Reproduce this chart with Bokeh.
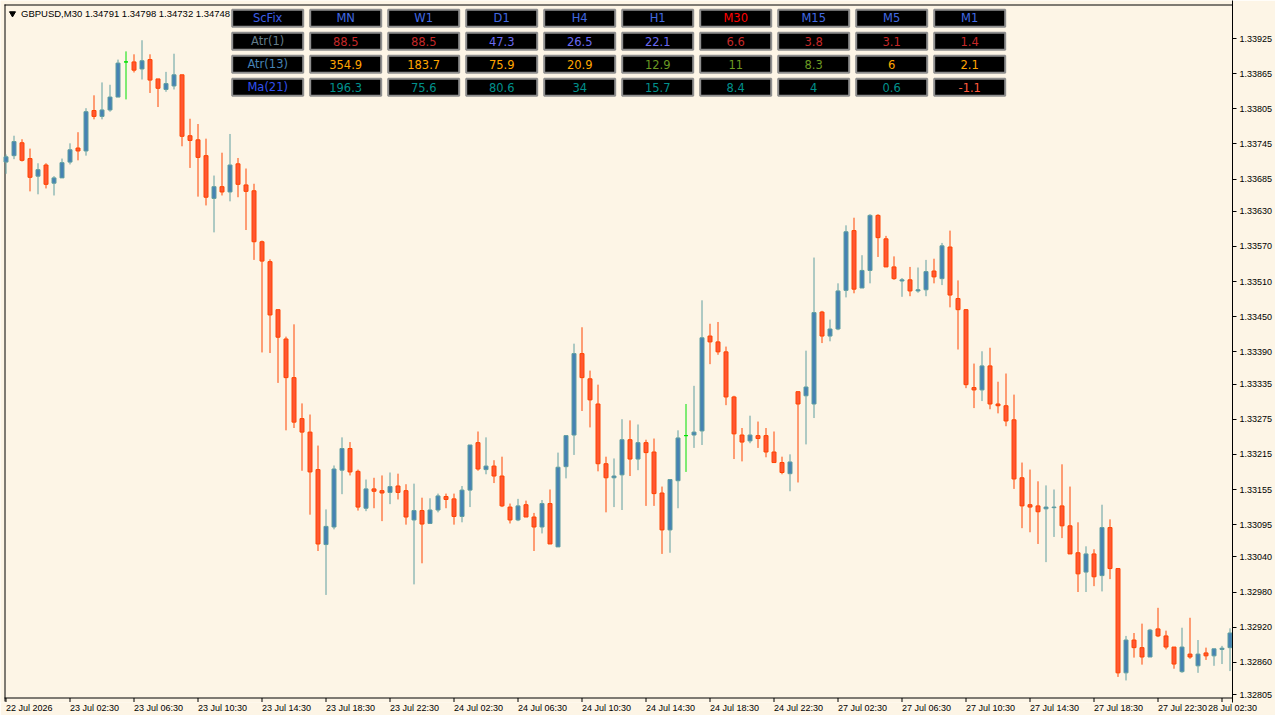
from bokeh.plotting import figure
from bokeh.models import Range1d, FixedTicker, PrintfTickFormatter, ColumnDataSource
from bokeh.core.properties import value
from bokeh.embed import file_html
from bokeh.resources import INLINE

# ---------------- data ----------------
SYMBOL_TEXT = "GBPUSD,M30 1.34791 1.34798 1.34732 1.34748"

OPEN = [1.33714, 1.33725, 1.33747, 1.33720, 1.33690, 1.33709, 1.33678, 1.33687, 1.33714, 1.33738,
        1.33733, 1.33802, 1.33792, 1.33803, 1.33825, 1.33885, 1.33885, 1.33873, 1.33889, 1.33856,
        1.33838, 1.33844, 1.33863, 1.33759, 1.33752, 1.33725, 1.33652, 1.33672, 1.33663, 1.33711,
        1.33675, 1.33665, 1.33578, 1.33544, 1.33462, 1.33412, 1.33346, 1.33276, 1.33253, 1.33189,
        1.33061, 1.33091, 1.33188, 1.33225, 1.33186, 1.33123, 1.33156, 1.33153, 1.33150, 1.33161,
        1.33153, 1.33103, 1.33119, 1.33097, 1.33120, 1.33143, 1.33139, 1.33109, 1.33154, 1.33235,
        1.33189, 1.33195, 1.33178, 1.33125, 1.33103, 1.33129, 1.33108, 1.33091, 1.33131, 1.33057,
        1.33194, 1.33248, 1.33387, 1.33344, 1.33301, 1.33199, 1.33175, 1.33180, 1.33240, 1.33207,
        1.33235, 1.33219, 1.33149, 1.33086, 1.33170, 1.33247, 1.33248, 1.33255, 1.33417, 1.33407,
        1.33390, 1.33313, 1.33248, 1.33238, 1.33247, 1.33247, 1.33219, 1.33201, 1.33182, 1.33322,
        1.33315, 1.33301, 1.33458, 1.33417, 1.33429, 1.33495, 1.33597, 1.33499, 1.33529, 1.33623,
        1.33583, 1.33535, 1.33511, 1.33513, 1.33494, 1.33496, 1.33528, 1.33515, 1.33569, 1.33481,
        1.33462, 1.33329, 1.33325, 1.33366, 1.33301, 1.33298, 1.33274, 1.33175, 1.33129, 1.33127,
        1.33122, 1.33124, 1.33127, 1.33093, 1.33047, 1.33014, 1.33045, 1.33008, 1.33090, 1.33020,
        1.32842, 1.32898, 1.32885, 1.32869, 1.32917, 1.32905, 1.32886, 1.32844, 1.32874, 1.32854,
        1.32876, 1.32871, 1.32882, 1.32885]

HIGH = [1.33727, 1.33759, 1.33753, 1.33737, 1.33712, 1.33712, 1.33690, 1.33720, 1.33746, 1.33765,
        1.33806, 1.33828, 1.33850, 1.33846, 1.33889, 1.33903, 1.33898, 1.33922, 1.33898, 1.33856,
        1.33868, 1.33899, 1.33863, 1.33788, 1.33779, 1.33754, 1.33691, 1.33730, 1.33762, 1.33721,
        1.33703, 1.33677, 1.33580, 1.33548, 1.33462, 1.33416, 1.33437, 1.33302, 1.33283, 1.33230,
        1.33121, 1.33196, 1.33244, 1.33236, 1.33189, 1.33172, 1.33175, 1.33179, 1.33184, 1.33182,
        1.33164, 1.33165, 1.33141, 1.33140, 1.33148, 1.33148, 1.33148, 1.33161, 1.33231, 1.33254,
        1.33244, 1.33205, 1.33211, 1.33131, 1.33139, 1.33136, 1.33115, 1.33137, 1.33155, 1.33218,
        1.33247, 1.33404, 1.33432, 1.33358, 1.33334, 1.33211, 1.33208, 1.33275, 1.33273, 1.33266,
        1.33240, 1.33242, 1.33160, 1.33172, 1.33256, 1.33301, 1.33332, 1.33478, 1.33438, 1.33441,
        1.33399, 1.33315, 1.33260, 1.33281, 1.33271, 1.33260, 1.33254, 1.33211, 1.33215, 1.33322,
        1.33392, 1.33551, 1.33460, 1.33445, 1.33507, 1.33606, 1.33619, 1.33555, 1.33625, 1.33625,
        1.33588, 1.33553, 1.33516, 1.33535, 1.33534, 1.33547, 1.33549, 1.33576, 1.33597, 1.33512,
        1.33463, 1.33370, 1.33391, 1.33397, 1.33339, 1.33353, 1.33317, 1.33201, 1.33189, 1.33169,
        1.33162, 1.33155, 1.33198, 1.33160, 1.33099, 1.33058, 1.33053, 1.33129, 1.33104, 1.33020,
        1.32905, 1.32910, 1.32926, 1.32917, 1.32953, 1.32914, 1.32886, 1.32919, 1.32936, 1.32898,
        1.32885, 1.32883, 1.32888, 1.32918]

LOW = [1.33694, 1.33719, 1.33715, 1.33664, 1.33659, 1.33669, 1.33657, 1.33687, 1.33710, 1.33717,
       1.33725, 1.33787, 1.33787, 1.33800, 1.33825, 1.33821, 1.33867, 1.33855, 1.33832, 1.33808,
       1.33834, 1.33838, 1.33741, 1.33704, 1.33655, 1.33640, 1.33594, 1.33657, 1.33647, 1.33654,
       1.33598, 1.33547, 1.33389, 1.33388, 1.33337, 1.33256, 1.33260, 1.33187, 1.33112, 1.33050,
       1.32975, 1.33087, 1.33147, 1.33179, 1.33119, 1.33118, 1.33123, 1.33101, 1.33130, 1.33138,
       1.33095, 1.32993, 1.33029, 1.33097, 1.33116, 1.33123, 1.33095, 1.33099, 1.33125, 1.33187,
       1.33181, 1.33166, 1.33125, 1.33097, 1.33101, 1.33108, 1.33050, 1.33080, 1.33062, 1.33057,
       1.33174, 1.33214, 1.33289, 1.33261, 1.33186, 1.33116, 1.33125, 1.33120, 1.33178, 1.33188,
       1.33127, 1.33127, 1.33045, 1.33047, 1.33123, 1.33185, 1.33226, 1.33231, 1.33369, 1.33385,
       1.33299, 1.33207, 1.33203, 1.33234, 1.33226, 1.33210, 1.33201, 1.33181, 1.33152, 1.33167,
       1.33232, 1.33277, 1.33405, 1.33408, 1.33427, 1.33483, 1.33490, 1.33499, 1.33507, 1.33552,
       1.33535, 1.33513, 1.33484, 1.33485, 1.33491, 1.33485, 1.33507, 1.33504, 1.33466, 1.33394,
       1.33328, 1.33294, 1.33306, 1.33292, 1.33285, 1.33263, 1.33156, 1.33089, 1.33082, 1.33062,
       1.33031, 1.33074, 1.33072, 1.33045, 1.32980, 1.32980, 1.32990, 1.32981, 1.33002, 1.32835,
       1.32829, 1.32868, 1.32856, 1.32869, 1.32903, 1.32882, 1.32849, 1.32842, 1.32866, 1.32842,
       1.32864, 1.32854, 1.32857, 1.32845]

CLOSE = [1.33723, 1.33749, 1.33717, 1.33688, 1.33701, 1.33676, 1.33687, 1.33713, 1.33735, 1.33733,
         1.33800, 1.33792, 1.33803, 1.33825, 1.33883, 1.33885, 1.33871, 1.33887, 1.33854, 1.33840,
         1.33848, 1.33863, 1.33758, 1.33751, 1.33722, 1.33654, 1.33672, 1.33663, 1.33709, 1.33676,
         1.33664, 1.33578, 1.33545, 1.33453, 1.33415, 1.33346, 1.33270, 1.33253, 1.33185, 1.33062,
         1.33092, 1.33190, 1.33225, 1.33185, 1.33125, 1.33156, 1.33152, 1.33149, 1.33160, 1.33150,
         1.33108, 1.33119, 1.33096, 1.33120, 1.33144, 1.33138, 1.33109, 1.33154, 1.33231, 1.33190,
         1.33195, 1.33178, 1.33127, 1.33103, 1.33127, 1.33108, 1.33091, 1.33131, 1.33062, 1.33193,
         1.33247, 1.33387, 1.33346, 1.33308, 1.33199, 1.33175, 1.33178, 1.33240, 1.33207, 1.33235,
         1.33218, 1.33148, 1.33086, 1.33172, 1.33243, 1.33247, 1.33253, 1.33414, 1.33407, 1.33390,
         1.33313, 1.33250, 1.33236, 1.33248, 1.33242, 1.33219, 1.33201, 1.33184, 1.33202, 1.33301,
         1.33330, 1.33457, 1.33417, 1.33429, 1.33494, 1.33595, 1.33497, 1.33529, 1.33623, 1.33585,
         1.33535, 1.33515, 1.33513, 1.33494, 1.33496, 1.33527, 1.33518, 1.33571, 1.33487, 1.33462,
         1.33334, 1.33325, 1.33366, 1.33301, 1.33298, 1.33272, 1.33173, 1.33127, 1.33125, 1.33117,
         1.33125, 1.33125, 1.33093, 1.33045, 1.33011, 1.33045, 1.33006, 1.33090, 1.33020, 1.32842,
         1.32898, 1.32885, 1.32869, 1.32915, 1.32905, 1.32886, 1.32857, 1.32886, 1.32869, 1.32874,
         1.32871, 1.32883, 1.32884, 1.32910]

X_TICK_BARS = [0, 8, 16, 24, 32, 40, 48, 56, 64, 72, 80, 88, 96, 104, 112, 120, 128, 136, 144, 152]
X_TICK_LABELS = ["22 Jul 2026", "23 Jul 02:30", "23 Jul 06:30", "23 Jul 10:30", "23 Jul 14:30",
                 "23 Jul 18:30", "23 Jul 22:30", "24 Jul 02:30", "24 Jul 06:30", "24 Jul 10:30",
                 "24 Jul 14:30", "24 Jul 18:30", "24 Jul 22:30", "27 Jul 02:30", "27 Jul 06:30",
                 "27 Jul 10:30", "27 Jul 14:30", "27 Jul 18:30", "27 Jul 22:30", "28 Jul 02:30"]
Y_TICKS = [1.33925, 1.33865, 1.33805, 1.33745, 1.33685, 1.33630, 1.33570, 1.33510, 1.33450, 1.33390,
           1.33335, 1.33275, 1.33215, 1.33155, 1.33095, 1.33040, 1.32980, 1.32920, 1.32860, 1.32805]

TABLE_HEADERS = ["ScFix", "MN", "W1", "D1", "H4", "H1", "M30", "M15", "M5", "M1"]
HEADER_COLORS = ["#3D5FE6", "#4169E1", "#4169E1", "#4169E1", "#4169E1", "#4169E1",
                 "#FF0000", "#4169E1", "#4169E1", "#4169E1"]
ROW_LABELS = ["Atr(1)", "Atr(13)", "Ma(21)"]
ROW_LABEL_COLORS = ["#627C8A", "#4682B4", "#3050F0"]
ATR1 = [88.5, 88.5, 47.3, 26.5, 22.1, 6.6, 3.8, 3.1, 1.4]
ATR13 = [354.9, 183.7, 75.9, 20.9, 12.9, 11, 8.3, 6, 2.1]
MA21 = [196.3, 75.6, 80.6, 34, 15.7, 8.4, 4, 0.6, -1.1]
RED_V, SLATE_V, ORANGE_V, OLIVE_V, TEAL_V, TOMATO_V = "#C42828", "#6A6AF0", "#FFA500", "#6B9A23", "#00908C", "#FF5A3C"
ATR1_COLORS = [RED_V, RED_V, SLATE_V, SLATE_V, SLATE_V, RED_V, RED_V, RED_V, RED_V]
ATR13_COLORS = [ORANGE_V, ORANGE_V, ORANGE_V, ORANGE_V, OLIVE_V, OLIVE_V, OLIVE_V, ORANGE_V, ORANGE_V]
MA21_COLORS = [TEAL_V, TEAL_V, TEAL_V, TEAL_V, TEAL_V, TEAL_V, TEAL_V, TEAL_V, TOMATO_V]

# ---------------- style / layout ----------------
BG = "#FDF5E6"
BULL_FILL, BULL_LINE = "#4682B4", "#5F9EA0"
BEAR_FILL, BEAR_LINE = "#FF5733", "#FF4500"
DOJI = "#00E000"
AXIS_FONT = "Liberation Sans"
AXIS_FONT_PX = 9
TABLE_FONT = "DejaVu Sans"

FRAME_W, FRAME_H = 1232, 702
PX_PER_BAR = 8
PRICE_PER_PX = (Y_TICKS[0] - Y_TICKS[-1]) / 656.0
X0 = -5.5 / PX_PER_BAR
X1 = X0 + FRAME_W / PX_PER_BAR
Y1 = Y_TICKS[0] + 38 * PRICE_PER_PX
Y0 = Y1 - FRAME_H * PRICE_PER_PX


def fx(ref_x):
    return X0 + ref_x / PX_PER_BAR


def fy(ref_y):
    return Y1 - ref_y * PRICE_PER_PX


# approximate advance widths (em) of the axis font, used to left-align time labels at their ticks
_ADV = {c: 0.556 for c in "0123456789"}
_ADV.update({" ": 0.278, ":": 0.278, "J": 0.5, "u": 0.556, "l": 0.222})


def text_px(s):
    return sum(_ADV.get(ch, 0.55) for ch in s) * AXIS_FONT_PX


p = figure(frame_width=FRAME_W, frame_height=FRAME_H,
           x_range=Range1d(X0, X1), y_range=Range1d(Y0, Y1),
           output_backend="svg", toolbar_location=None,
           y_axis_location="right", x_axis_location="below",
           min_border_left=0, min_border_top=0, min_border_right=41, min_border_bottom=0)
p.background_fill_color = BG
p.border_fill_color = BG
p.outline_line_color = None
p.grid.visible = False

# right price axis
p.yaxis.ticker = FixedTicker(ticks=Y_TICKS)
p.yaxis.formatter = PrintfTickFormatter(format="%.5f")
p.yaxis.major_tick_out = 4
p.yaxis.major_tick_in = 0
p.yaxis.minor_tick_out = 0
p.yaxis.minor_tick_in = 0
p.yaxis.major_label_standoff = 3
p.yaxis.major_label_text_font = AXIS_FONT
p.yaxis.major_label_text_font_size = f"{AXIS_FONT_PX}px"
p.yaxis.major_label_text_color = "black"
p.yaxis.axis_line_color = "black"
p.yaxis.major_tick_line_color = "black"

# time axis labels: the axis centres its labels, so each sits half its width right of its tick
# (kept inside the visible range, which the axis requires)
label_pos = [round(min(b + text_px(t) / 2 / PX_PER_BAR, X1 - 0.01), 4)
             for b, t in zip(X_TICK_BARS, X_TICK_LABELS)]
p.xaxis.ticker = FixedTicker(ticks=label_pos)
p.xaxis.major_label_overrides = {pos: t for pos, t in zip(label_pos, X_TICK_LABELS)}
p.xaxis.major_tick_out = 0
p.xaxis.major_tick_in = 0
p.xaxis.minor_tick_out = 0
p.xaxis.minor_tick_in = 0
p.xaxis.major_tick_line_color = None
p.xaxis.minor_tick_line_color = None
p.xaxis.axis_line_color = None
p.xaxis.major_label_standoff = 0
p.xaxis.major_label_text_font = AXIS_FONT
p.xaxis.major_label_text_font_size = f"{AXIS_FONT_PX}px"
p.xaxis.major_label_text_color = "black"

# chart frame lines (left, top, bottom of the price area)
p.segment(x0=[fx(4.5), fx(4), fx(4)], y0=[fy(4), fy(4.5), fy(697.5)],
          x1=[fx(4.5), fx(1233), fx(1233)], y1=[fy(701), fy(4.5), fy(697.5)],
          line_color="black", line_width=1)

# time-axis tick marks
p.segment(x0=X_TICK_BARS, y0=[fy(697.5)] * len(X_TICK_BARS),
          x1=X_TICK_BARS, y1=[fy(701.5)] * len(X_TICK_BARS),
          line_color="black", line_width=1)

# candles
n = len(OPEN)
xs = list(range(n))
wick_col, fill_col, line_col, tops, bots = [], [], [], [], []
for o, c in zip(OPEN, CLOSE):
    if c > o:
        wick_col.append(BULL_LINE); fill_col.append(BULL_FILL); line_col.append(BULL_LINE)
    elif c < o:
        wick_col.append(BEAR_LINE); fill_col.append(BEAR_FILL); line_col.append(BEAR_LINE)
    else:
        wick_col.append(DOJI); fill_col.append(DOJI); line_col.append(DOJI)
    tops.append(max(o, c)); bots.append(min(o, c))

src = ColumnDataSource(dict(x=xs, high=HIGH, low=LOW, top=tops, bottom=bots,
                            wick=wick_col, fill=fill_col, line=line_col))
p.segment(x0="x", y0="low", x1="x", y1="high", source=src, line_color="wick", line_width=1)
p.vbar(x="x", width=0.5, top="top", bottom="bottom", source=src,
       fill_color="fill", line_color="line", line_width=1)

# header text
p.scatter(x=[fx(12)], y=[fy(13)], marker="inverted_triangle", size=6, color="black")
p.text(x=[fx(20.5)], y=[fy(13)], text=[SYMBOL_TEXT], text_align="left", text_baseline="middle",
       text_font=value(AXIS_FONT), text_font_size=value("9.5px"), text_color="black")

# table
TBL_LEFT, COL_STEP, CELL_W = 230.7, 78, 73
ROW_TOP, ROW_STEP, CELL_H = 8.3, 23, 19
cell_x, cell_y, cell_t, cell_c = [], [], [], []
rows_text = [TABLE_HEADERS,
             [ROW_LABELS[0]] + [f"{v:g}" for v in ATR1],
             [ROW_LABELS[1]] + [f"{v:g}" for v in ATR13],
             [ROW_LABELS[2]] + [f"{v:g}" for v in MA21]]
rows_col = [HEADER_COLORS,
            [ROW_LABEL_COLORS[0]] + ATR1_COLORS,
            [ROW_LABEL_COLORS[1]] + ATR13_COLORS,
            [ROW_LABEL_COLORS[2]] + MA21_COLORS]
for r in range(4):
    for ci in range(10):
        cx = TBL_LEFT + CELL_W / 2 + COL_STEP * ci
        cy = ROW_TOP + CELL_H / 2 + ROW_STEP * r
        cell_x.append(fx(cx)); cell_y.append(fy(cy))
        cell_t.append(rows_text[r][ci]); cell_c.append(rows_col[r][ci])

p.rect(x=cell_x, y=cell_y, width=(CELL_W - 2) / PX_PER_BAR, height=(CELL_H - 2) * PRICE_PER_PX,
       fill_color="black", line_color="#8E8E8E", line_width=2)
p.text(x=cell_x, y=cell_y, text=cell_t, text_color=cell_c, text_align="center",
       text_baseline="middle", text_font=value(TABLE_FONT), text_font_size=value("11.5px"))

open("out.html", "w").write(file_html(p, INLINE))
